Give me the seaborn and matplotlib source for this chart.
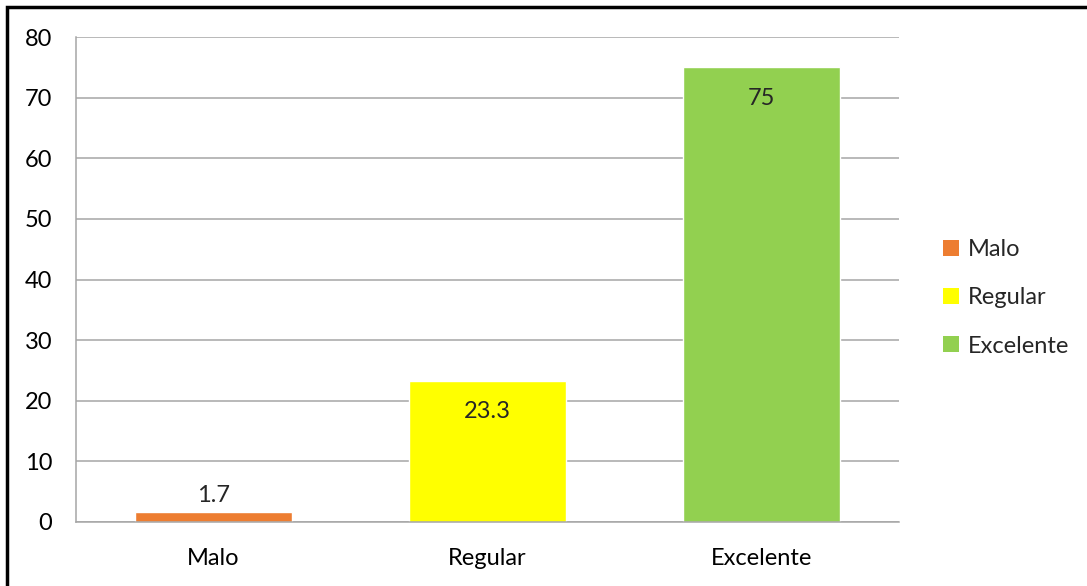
import matplotlib
matplotlib.use("Agg")
import matplotlib.pyplot as plt
import seaborn as sns
import pandas as pd
from matplotlib.patches import Rectangle, Patch

categories = ["Malo", "Regular", "Excelente"]
values = [1.7, 23.3, 75]
labels = ["1.7", "23.3", "75"]
colors = ["#ED7D31", "#FFFF00", "#92D050"]

sns.set_theme(style="white")
plt.rcParams['font.family'] = ['Lato', 'DejaVu Sans']

df = pd.DataFrame({"cat": categories, "val": values})
fig = plt.figure(figsize=(10.87, 5.86), dpi=100)
ax = fig.add_axes([76/1087, 1-522/586, (899-76)/1087, (522-37)/586])
sns.barplot(data=df, x="cat", y="val", hue="cat", palette=colors, dodge=False,
            width=0.572, ax=ax, legend=False, saturation=1)

FS = 17
ax.set_ylim(0, 80)
ax.set_xlim(-0.5, 2.5)
ax.set_yticks(range(0, 81, 10))
ax.yaxis.grid(True, color="#A6A6A6", linewidth=1.1)
ax.set_axisbelow(True)
ax.set_xlabel("")
ax.set_ylabel("")
for s in ["top", "right"]:
    ax.spines[s].set_visible(False)
for s in ["left", "bottom"]:
    ax.spines[s].set_color("#A6A6A6")
    ax.spines[s].set_linewidth(1.1)
ax.tick_params(axis="both", labelsize=FS, colors="black", length=0)
ax.tick_params(axis="y", pad=17)
ax.tick_params(axis="x", pad=18.5)

for i, (v, lab) in enumerate(zip(values, labels)):
    if v < 5:
        ax.text(i, v + 1.0, lab, ha="center", va="bottom", fontsize=FS)
    else:
        ax.text(i, v - 3.4, lab, ha="center", va="top", fontsize=FS)

handles = [Patch(facecolor=c, edgecolor="none") for c in colors]
fig.legend(handles, categories, loc="center left", bbox_to_anchor=(934/1087, 1-298/586),
           frameon=False, fontsize=FS, handlelength=0.65, handleheight=0.65,
           handletextpad=0.4, labelspacing=1.15, borderaxespad=0)

fig.patches.append(Rectangle((7/1087, -0.05), 1.1, 1 - 7/586 + 0.05, transform=fig.transFigure,
                             fill=False, edgecolor="black", linewidth=2.5))
fig.savefig("out.png", dpi=100, facecolor="white")
